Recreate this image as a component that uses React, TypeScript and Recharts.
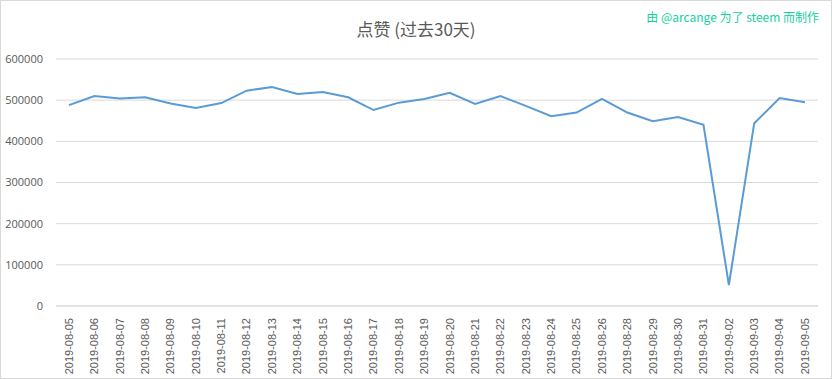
import { CartesianGrid, Line, LineChart, XAxis, YAxis } from "recharts";

const dates = [
  "2019-08-05", "2019-08-06", "2019-08-07", "2019-08-08", "2019-08-09",
  "2019-08-10", "2019-08-11", "2019-08-12", "2019-08-13", "2019-08-14",
  "2019-08-15", "2019-08-16", "2019-08-17", "2019-08-18", "2019-08-19",
  "2019-08-20", "2019-08-21", "2019-08-22", "2019-08-23", "2019-08-24",
  "2019-08-25", "2019-08-26", "2019-08-28", "2019-08-29", "2019-08-30",
  "2019-08-31", "2019-09-02", "2019-09-03", "2019-09-04", "2019-09-05",
];

const votes = [
  488000, 510000, 504000, 507000, 492000,
  481000, 493000, 523000, 532000, 515000,
  520000, 507000, 476000, 494000, 503000,
  518000, 491000, 510000, 486000, 461000,
  470000, 503000, 470000, 449000, 459000,
  440000, 51000, 444000, 505000, 495000,
];

const yTicks = [0, 100000, 200000, 300000, 400000, 500000, 600000];

const data = dates.map((date, i) => ({ date, votes: votes[i] }));

const DateTick = (props: any) => {
  const { x, y, payload } = props;
  return (
    <text
      x={x}
      y={y}
      transform={`rotate(-90, ${x}, ${y})`}
      textAnchor="end"
      dy="0.35em"
      fill="#595959"
      fontSize={11}
      fontFamily="'Liberation Sans', Arial, sans-serif"
    >
      {payload.value}
    </text>
  );
};

export default function App() {
  return (
    <div style={{ position: "relative", width: 832, height: 379, background: "#fff" }}>
      <style>{"body{margin:0}"}</style>
      <LineChart
        width={832}
        height={379}
        data={data}
        margin={{ top: 59, right: 14, bottom: 0, left: 1 }}
      >
        <CartesianGrid vertical={false} stroke="#d9d9d9" />
        <XAxis
          dataKey="date"
          interval={0}
          height={73}
          padding={{ left: 13, right: 13 }}
          tickLine={false}
          axisLine={{ stroke: "#d9d9d9" }}
          tick={<DateTick />}
          tickMargin={6}
        />
        <YAxis
          domain={[0, 600000]}
          ticks={yTicks}
          width={55}
          tickLine={false}
          axisLine={false}
          tick={{ fill: "#595959", fontSize: 11, fontFamily: "'Open Sans', sans-serif" }}
          tickMargin={7}
        />
        <Line
          type="linear"
          dataKey="votes"
          stroke="#5b9bd5"
          strokeWidth={2}
          dot={false}
          isAnimationActive={false}
        />
      </LineChart>
      <div
        style={{
          position: "absolute",
          top: 17,
          left: 0,
          width: 832,
          textAlign: "center",
          fontFamily: "'Noto Sans CJK SC', sans-serif",
          fontSize: 17,
          lineHeight: "24px",
          color: "#595959",
        }}
      >
        点赞 (过去30天)
      </div>
      <div
        style={{
          position: "absolute",
          top: 8,
          right: 13,
          fontFamily: "'Noto Sans CJK SC', sans-serif",
          fontSize: 12,
          lineHeight: "18px",
          color: "#12d0a0",
        }}
      >
        由 @arcange 为了 steem 而制作
      </div>
      <div
        style={{
          position: "absolute",
          inset: 0,
          border: "1px solid #d9d9d9",
          pointerEvents: "none",
        }}
      />
    </div>
  );
}
